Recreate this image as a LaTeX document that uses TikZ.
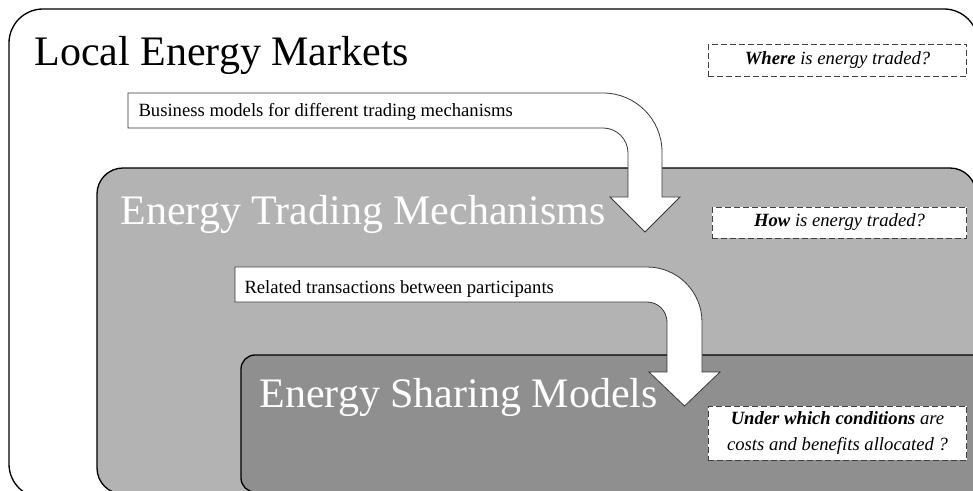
\documentclass[tikz,border=0pt]{standalone}
\usepackage{fontspec}
\setmainfont{Liberation Serif}

\definecolor{tradegray}{RGB}{179,179,179}
\definecolor{sharegray}{RGB}{143,143,143}
\definecolor{edgegray}{RGB}{55,55,55}

\tikzset{every picture/.style={line width=0.75pt}}
\tikzset{
  layerbox/.style={draw=black, line width=1pt},
  bentarrow/.style={draw=edgegray, fill=white, line width=0.6pt},
  question/.style={draw=black!75, fill=white, dash pattern=on 4.5pt off 2.25pt, line width=0.6pt,
    inner sep=0pt, align=center, font=\fontsize{14}{19.5}\selectfont\itshape},
  title/.style={anchor=base west, inner sep=0.75pt, font=\fontsize{31.5}{36}\selectfont},
  caption/.style={anchor=base west, inner sep=0.75pt, font=\fontsize{14}{17}\selectfont}
}

\begin{document}
\begin{tikzpicture}[x=0.75pt,y=0.75pt,yscale=-1,xscale=1]
\useasboundingbox (0,0) rectangle (973,491);
\clip (0,0) rectangle (973,491);

%Rounded Rect: local energy markets
\draw [layerbox, fill=white, rounded corners=25.5pt] (9,9) rectangle (978,498) ;
%Rounded Rect: energy trading mechanisms
\draw [layerbox, fill=tradegray, rounded corners=19.5pt] (97,168) rectangle (976,494) ;
%Rounded Rect: energy sharing models
\draw [layerbox, fill=sharegray, rounded corners=10.5pt] (241,355) rectangle (990,492) ;

%Shape: Bent Arrow (markets to trading)
\draw [bentarrow] (128,93) -- (603,93) .. controls (635.6,93) and (662,119.4) .. (662,152) -- (662,197) -- (680,197) -- (645,232) -- (610,197) -- (628,197) -- (628,153) .. controls (628,139.2) and (616.8,128) .. (603,128) -- (128,128) -- cycle ;
%Shape: Bent Arrow (trading to sharing)
\draw [bentarrow] (235,267) -- (647,267) .. controls (677.4,267) and (702,291.6) .. (702,322) -- (702,372) -- (720,372) -- (684.5,406) -- (649,372) -- (667,372) -- (667,322) .. controls (667,311) and (658,302) .. (647,302) -- (235,302) -- cycle ;

% Text Node
\draw (33,66) node (markets) [title] {Local Energy Markets};
% Text Node
\draw (119,225) node (trading) [title, white] {Energy Trading Mechanisms};
% Text Node
\draw (258,407) node (sharing) [title, white] {Energy Sharing Models};

% Text Node
\draw (137,117) node (business) [caption] {Business models for different trading mechanisms};
% Text Node
\draw (243,293) node (related) [caption] {Related transactions between participants};

% Text Node
\draw (837.5,60) node (where) [question, minimum width=194pt, minimum height=24pt] {\textbf{Where} is energy traded?};
% Text Node
\draw (839.5,222.5) node (how) [question, minimum width=191pt, minimum height=23.25pt] {\textbf{How} is energy traded?};
% Text Node
\draw (837.5,433) node (conditions) [question, minimum width=194pt, minimum height=40.5pt] {\textbf{Under which conditions} are\\costs and benefits allocated ?};

\end{tikzpicture}
\end{document}
